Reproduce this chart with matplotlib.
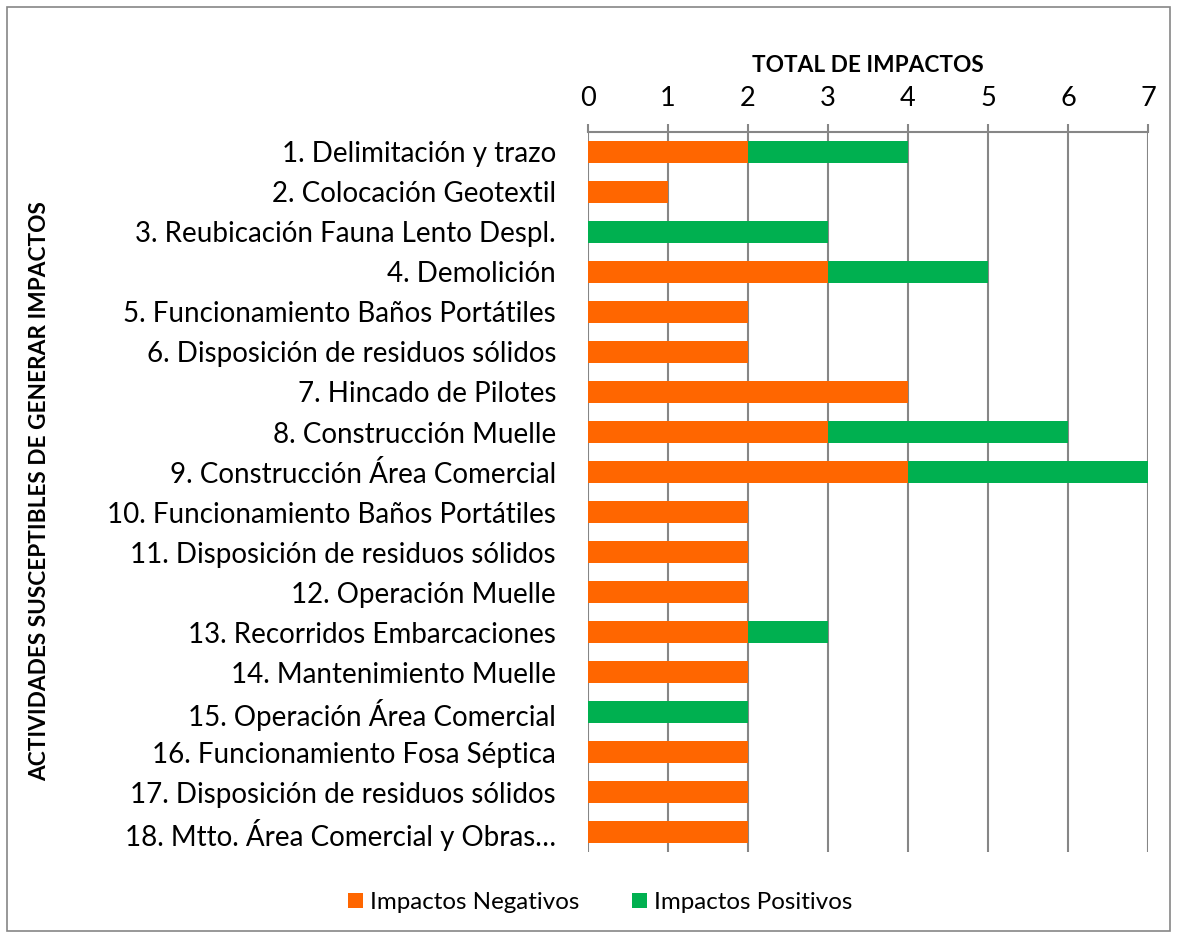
import matplotlib.pyplot as plt
import numpy as np
from matplotlib.patches import Rectangle

plt.rcParams['font.family'] = ['Lato', 'DejaVu Sans']

actividades = [
    "1. Delimitación y trazo",
    "2. Colocación Geotextil",
    "3. Reubicación Fauna Lento Despl.",
    "4. Demolición",
    "5. Funcionamiento Baños Portátiles",
    "6. Disposición de residuos sólidos",
    "7. Hincado de Pilotes",
    "8. Construcción Muelle",
    "9. Construcción Área Comercial",
    "10. Funcionamiento Baños Portátiles",
    "11. Disposición de residuos sólidos",
    "12. Operación Muelle",
    "13. Recorridos Embarcaciones",
    "14. Mantenimiento Muelle",
    "15. Operación Área Comercial",
    "16. Funcionamiento Fosa Séptica",
    "17. Disposición de residuos sólidos",
    "18. Mtto. Área Comercial y Obras…",
]
negativos = [2, 1, 0, 3, 2, 2, 4, 3, 4, 2, 2, 2, 2, 2, 0, 2, 2, 2]
positivos = [2, 0, 3, 2, 0, 0, 0, 3, 3, 0, 0, 0, 1, 0, 2, 0, 0, 0]

naranja = "#FF6600"
verde = "#00B050"
gris = "#868686"

fig = plt.figure(figsize=(11.77, 9.36), dpi=100)
ax = fig.add_axes([0.4996, 0.0897, 0.4758, 0.7693])

y = np.arange(len(actividades))
ax.barh(y, negativos, height=0.55, color=naranja, label="Impactos Negativos", zorder=3)
ax.barh(y, positivos, left=negativos, height=0.55, color=verde, label="Impactos Positivos", zorder=3)

ax.set_xlim(0, 7)
ax.set_ylim(len(actividades) - 0.5, -0.5)
ax.set_xticks(range(8))
ax.xaxis.tick_top()
ax.xaxis.set_label_position("top")
ax.tick_params(axis="x", direction="out", length=6, width=1.5, color=gris,
               labelsize=19.5, pad=9)
ax.tick_params(axis="y", length=0, labelsize=20, pad=23)
ax.set_yticks(y)
ax.set_yticklabels(actividades)
ax.grid(axis="x", color=gris, linewidth=1.5, zorder=0)

for s in ["right", "bottom", "left"]:
    ax.spines[s].set_visible(False)
ax.spines["top"].set_color(gris)
ax.spines["top"].set_linewidth(1.5)

ax.set_xlabel("TOTAL DE IMPACTOS", fontsize=16.3, fontweight="bold", labelpad=10)
fig.text(0.034, 0.475, "ACTIVIDADES SUSCEPTIBLES DE GENERAR IMPACTOS", rotation=90,
         fontsize=16.3, fontweight="bold", ha="center", va="center")

fig.legend(loc="center", bbox_to_anchor=(0.51, 0.036), ncol=2, frameon=False,
           fontsize=17.4, handlelength=0.6, handleheight=0.6, handletextpad=0.3,
           columnspacing=2.2)

fig.patches.append(Rectangle((0.006, 0.005), 0.988, 0.988, transform=fig.transFigure,
                             fill=False, edgecolor=gris, linewidth=1.2))

fig.savefig("out.png", dpi=100)
